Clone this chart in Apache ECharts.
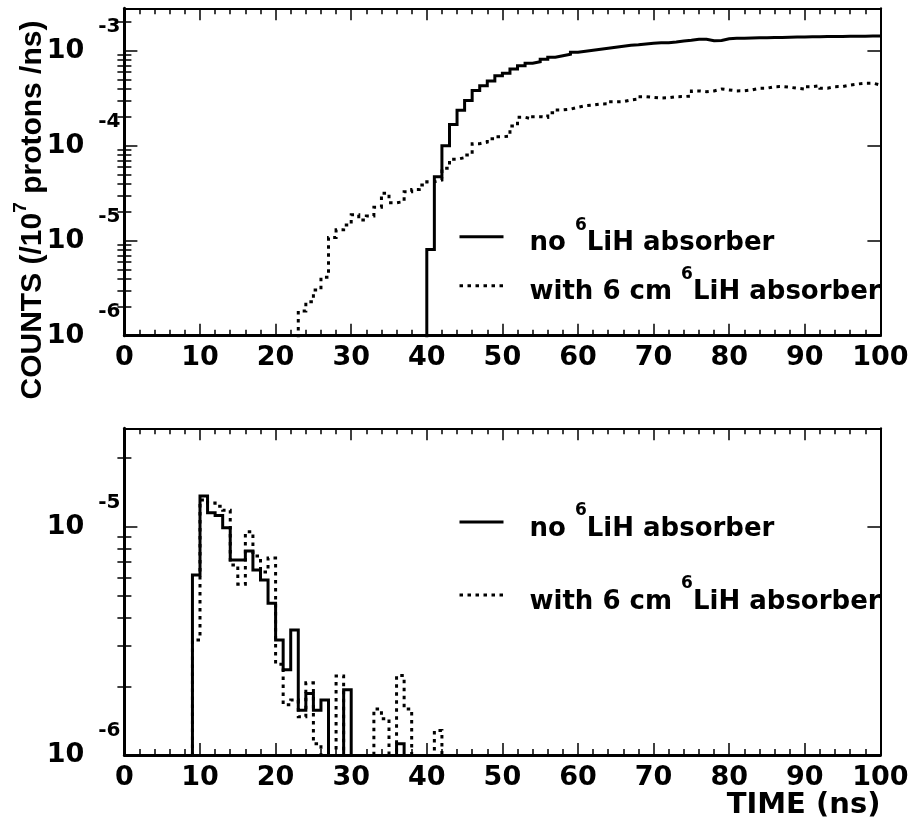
<!DOCTYPE html>
<html>
<head>
<meta charset="utf-8">
<script src="https://cdn.jsdelivr.net/npm/echarts@6/dist/echarts.min.js"></script>
<style>
  html, body { margin: 0; padding: 0; background: #fff; }
  #chart { width: 910px; height: 823px; }
</style>
</head>
<body>
<div id="chart"></div>
<script>
// counts per 1 ns bin (/10^7 protons /ns); each list starts at the given bin, earlier bins are empty
const topNoAbsStart = 40;
const topNoAbs = [
  8.1e-6, 4.72e-5, 1.0e-4, 1.67e-4, 2.36e-4, 2.99e-4, 3.81e-4, 4.28e-4, 4.80e-4, 5.45e-4,
  5.78e-4, 6.41e-4, 6.95e-4, 7.36e-4, 7.66e-4, 8.11e-4, 8.53e-4, 8.85e-4, 9.16e-4, 9.62e-4,
  9.86e-4, 1.009e-3, 1.035e-3, 1.059e-3, 1.086e-3, 1.112e-3, 1.140e-3, 1.156e-3, 1.178e-3, 1.197e-3,
  1.213e-3, 1.215e-3, 1.236e-3, 1.265e-3, 1.285e-3, 1.318e-3, 1.320e-3, 1.274e-3, 1.278e-3, 1.337e-3,
  1.352e-3, 1.355e-3, 1.362e-3, 1.366e-3, 1.371e-3, 1.377e-3, 1.380e-3, 1.386e-3, 1.391e-3, 1.394e-3,
  1.400e-3, 1.401e-3, 1.406e-3, 1.410e-3, 1.412e-3, 1.416e-3, 1.420e-3, 1.422e-3, 1.426e-3, 1.430e-3
];
const topWithAbsStart = 23;
const topWithAbs = [
  1.82e-6, 2.28e-6, 3.03e-6, 4.12e-6, 1.08e-5, 1.30e-5, 1.46e-5,
  1.87e-5, 1.65e-5, 1.82e-5, 2.25e-5, 3.16e-5, 2.51e-5, 2.58e-5, 3.28e-5, 3.46e-5, 3.86e-5,
  4.18e-5, 4.35e-5, 5.78e-5, 7.19e-5, 7.48e-5, 7.98e-5, 1.05e-4, 1.09e-4, 1.18e-4, 1.24e-4,
  1.26e-4, 1.61e-4, 1.99e-4, 1.91e-4, 2.02e-4, 1.99e-4, 2.22e-4, 2.38e-4, 2.42e-4, 2.54e-4,
  2.64e-4, 2.68e-4, 2.75e-4, 2.76e-4, 2.90e-4, 2.91e-4, 3.03e-4, 3.10e-4, 3.28e-4, 3.23e-4,
  3.18e-4, 3.20e-4, 3.28e-4, 3.29e-4, 3.33e-4, 3.77e-4, 3.70e-4, 3.77e-4, 3.95e-4, 3.86e-4,
  3.77e-4, 3.78e-4, 3.86e-4, 4.02e-4, 4.03e-4, 4.18e-4, 4.19e-4, 4.12e-4, 4.02e-4, 3.95e-4,
  4.18e-4, 4.28e-4, 4.02e-4, 4.18e-4, 4.19e-4, 4.35e-4, 4.46e-4, 4.54e-4, 4.55e-4, 4.35e-4
];
const botNoAbsStart = 9;
const botNoAbs = [
  6.14e-6, 1.363e-5, 1.15e-5, 1.12e-5, 9.9e-6, 7.14e-6, 7.14e-6, 7.82e-6, 6.46e-6, 5.84e-6,
  4.62e-6, 3.19e-6, 2.36e-6, 3.53e-6, 1.57e-6, 1.86e-6, 1.57e-6, 1.74e-6, 0, 0,
  1.93e-6, 0, 0, 0, 0, 0, 0, 1.12e-6
];
const botWithAbsStart = 9;
const botWithAbs = [
  3.19e-6, 1.31e-5, 1.27e-5, 1.23e-5, 1.18e-5, 6.8e-6, 5.6e-6, 9.5e-6, 7.44e-6, 6.33e-6,
  7.29e-6, 2.5e-6, 1.66e-6, 1.74e-6, 1.47e-6, 2.07e-6, 1.12e-6, 0, 0, 2.22e-6,
  0, 0, 0, 0, 1.59e-6, 1.44e-6, 0, 2.23e-6, 1.59e-6, 0,
  0, 0, 1.28e-6
];

const NBINS = 100;
const topDecades = [-6, -5, -4, -3];
const botDecades = [-6, -5];
const topRange = [-6, -2.554];   // log10 of y range, top panel
const botRange = [-6, -4.569];   // log10 of y range, bottom panel

const NAME_NO = 'no 6LiH absorber';
const NAME_WITH = 'with 6 cm 6LiH absorber';

const FONT = "'DejaVu Sans', sans-serif";
const FLOOR = -9; // empty bins fall below the axis and get clipped

function histData(start, values) {
  const pts = [];
  for (let i = 0; i < NBINS; i++) {
    const k = i - start;
    const v = k >= 0 && k < values.length ? values[k] : 0;
    pts.push([i, v > 0 ? Math.log10(v) : FLOOR]);
  }
  pts.push([NBINS, pts[NBINS - 1][1]]);
  return pts;
}

function minorTicks(range) {
  const out = [];
  for (let n = -7; n <= -2; n++) {
    for (let k = 2; k <= 9; k++) {
      const v = n + Math.log10(k);
      if (v > range[0] && v < range[1]) out.push(v);
    }
  }
  return out;
}

const tickStyle = { color: '#000', width: 1.5 };

function xAxes(grid) {
  const base = {
    gridIndex: grid, type: 'value', min: 0, max: 100, interval: 10,
    splitLine: { show: false },
    axisTick: { inside: true, length: 12, lineStyle: tickStyle },
    minorTick: { show: true, splitNumber: 5, length: 6, lineStyle: tickStyle }
  };
  const bottom = Object.assign({}, base, {
    position: 'bottom',
    axisLine: { show: true, onZero: false, lineStyle: { color: '#000', width: 3 } },
    axisLabel: { margin: 9, color: '#000', fontFamily: FONT, fontWeight: 'bold', fontSize: 27 }
  });
  const top = Object.assign({}, base, {
    position: 'top',
    axisLine: { show: true, onZero: false, lineStyle: { color: '#000', width: 2 } },
    axisLabel: { show: false }
  });
  return [bottom, top];
}

function yAxes(grid, range, decades, withName) {
  const minor = minorTicks(range);
  const common = {
    gridIndex: grid, type: 'value', min: range[0], max: range[1],
    splitLine: { show: false }
  };
  const leftMajor = Object.assign({}, common, {
    position: 'left',
    axisLine: { show: true, onZero: false, lineStyle: { color: '#000', width: 3 } },
    axisTick: { inside: true, length: 13, lineStyle: tickStyle, customValues: decades },
    axisLabel: {
      customValues: decades, margin: 4,
      formatter: v => '{e|' + Math.round(v) + '}\n{b|10}\n{s| }',
      rich: {
        e: { fontFamily: FONT, fontWeight: 'bold', fontSize: 20, lineHeight: 20, color: '#000' },
        b: { fontFamily: FONT, fontWeight: 'bold', fontSize: 27, lineHeight: 28, color: '#000', padding: [0, 36, 0, 0] },
        s: { fontSize: 10, lineHeight: 20 }
      }
    }
  });
  if (withName) {
    Object.assign(leftMajor, {
      name: '{t|COUNTS (/10}{s|7}{t| protons /ns)}',
      nameLocation: 'middle', nameRotate: 90, nameGap: 77,
      nameMoveOverlap: false,
      nameTextStyle: {
        padding: [0, 76, 0, 0],
        rich: {
          t: { fontFamily: "'Liberation Sans', Arial, sans-serif", fontWeight: 'bold', fontSize: 30, lineHeight: 36, verticalAlign: 'bottom', color: '#000' },
          s: { fontFamily: "'Liberation Sans', Arial, sans-serif", fontWeight: 'bold', fontSize: 19, lineHeight: 18, verticalAlign: 'top', color: '#000' }
        }
      }
    });
  }
  const leftMinor = Object.assign({}, common, {
    position: 'left',
    axisLine: { show: false },
    axisTick: { inside: true, length: 7, lineStyle: tickStyle, customValues: minor },
    axisLabel: { show: false }
  });
  const rightMajor = Object.assign({}, common, {
    position: 'right',
    axisLine: { show: true, onZero: false, lineStyle: { color: '#000', width: 2 } },
    axisTick: { inside: true, length: 13, lineStyle: tickStyle, customValues: decades },
    axisLabel: { show: false }
  });
  const rightMinor = Object.assign({}, common, {
    position: 'right',
    axisLine: { show: false },
    axisTick: { inside: true, length: 7, lineStyle: tickStyle, customValues: minor },
    axisLabel: { show: false }
  });
  return [leftMajor, leftMinor, rightMajor, rightMinor];
}

function histSeries(name, data, xi, yi, dotted) {
  return {
    type: 'line', name: name, step: 'end', symbol: 'none',
    xAxisIndex: xi, yAxisIndex: yi, data: data, clip: true,
    lineStyle: {
      color: '#000', width: 3,
      type: dotted ? [3.5, 4.5] : 'solid',
      cap: 'butt', join: 'miter'
    },
    itemStyle: { color: '#000' },
    z: dotted ? 2 : 3
  };
}

const legendRich = {
  t: { fontFamily: FONT, fontWeight: 'bold', fontSize: 26, lineHeight: 40, verticalAlign: 'bottom', color: '#000' },
  s: { fontFamily: FONT, fontWeight: 'bold', fontSize: 17, lineHeight: 12, verticalAlign: 'top', color: '#000' }
};

function legendAt(name, centerY) {
  return {
    data: [name], left: 458, top: centerY - 25, padding: 0,
    itemWidth: 44, itemHeight: 14, selectedMode: false,
    itemStyle: { opacity: 0 },
    lineStyle: { width: 3, color: '#000', cap: 'butt' },
    formatter: n => n === NAME_NO
      ? '{t|no }{s|6}{t|LiH absorber}'
      : '{t|with 6 cm }{s|6}{t|LiH absorber}',
    textStyle: { padding: [0, 0, 0, 21], rich: legendRich }
  };
}

const bottomX = xAxes(1);
bottomX[0].name = 'TIME (ns)';
bottomX[0].nameLocation = 'end';
bottomX[0].nameGap = 0;
bottomX[0].nameMoveOverlap = false;
bottomX[0].nameTextStyle = {
  align: 'right', verticalAlign: 'top', padding: [36, 0, 0, 0],
  fontFamily: FONT, fontWeight: 'bold', fontSize: 29, color: '#000'
};

const option = {
  animation: false,
  backgroundColor: '#fff',
  grid: [
    { left: 124.4, right: 29.6, top: 8.3, height: 327.4, containLabel: false, outerBoundsMode: 'none' },
    { left: 124.4, right: 29.6, top: 428.3, height: 326.7, containLabel: false, outerBoundsMode: 'none' }
  ],
  xAxis: [...xAxes(0), ...bottomX],
  yAxis: [...yAxes(0, topRange, topDecades, true), ...yAxes(1, botRange, botDecades, false)],
  legend: [
    legendAt(NAME_NO, 241.7),
    legendAt(NAME_WITH, 290.7),
    legendAt(NAME_NO, 527),
    legendAt(NAME_WITH, 600)
  ],
  series: [
    histSeries(NAME_WITH, histData(topWithAbsStart, topWithAbs), 0, 0, true),
    histSeries(NAME_NO, histData(topNoAbsStart, topNoAbs), 0, 0, false),
    histSeries(NAME_WITH, histData(botWithAbsStart, botWithAbs), 2, 4, true),
    histSeries(NAME_NO, histData(botNoAbsStart, botNoAbs), 2, 4, false)
  ]
};

const chart = echarts.init(document.getElementById('chart'), null, { renderer: 'canvas' });
chart.setOption(option);
</script>
</body>
</html>
